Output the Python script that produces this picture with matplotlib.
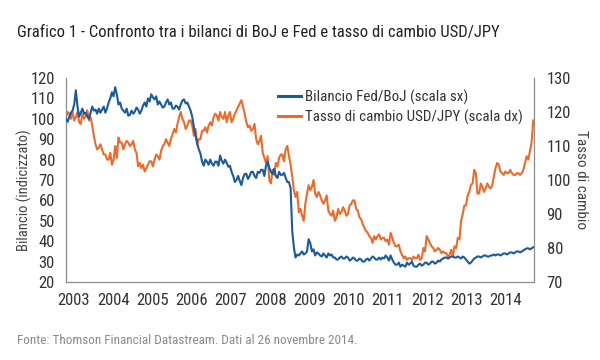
import numpy as np
from matplotlib import pyplot as plt
from matplotlib import font_manager
from matplotlib.lines import Line2D

# two readings a month, Jan 2003 .. Nov 2014
fed_boj = [
    100, 98.5, 101, 103, 104, 107, 114, 106, 101, 103, 105, 102.5,            # 2003
    103, 101, 100, 103, 106, 104, 104.5, 102.5, 105, 103, 104.5, 106,
    103, 105, 108, 110, 113, 111, 115.5, 112, 107, 108, 105, 104,             # 2004
    103, 105, 101.5, 102, 104, 102.5, 103.5, 105.5, 104.5, 102.5, 104, 106.5,
    108, 106, 110, 108.5, 112, 110.5, 109.5, 111, 107, 108.5, 107, 105.5,     # 2005
    106, 108, 109.5, 107, 108, 105, 105, 106.5, 106, 104.5, 107, 109,
    109.5, 107.5, 108, 106, 104, 101, 96, 92, 88, 85, 83, 79,                 # 2006
    77, 80, 79, 77.5, 80, 78, 77, 79, 79, 77, 82, 79.5,
    78, 80, 78.5, 76.5, 77, 74, 72, 69, 70, 72, 69.5, 67.5,                   # 2007
    71, 73, 73, 70.5, 72, 74, 74, 72, 71, 74, 73.5, 75,
    75, 72, 77, 79, 76, 74, 73, 75.5, 72, 71, 74, 72.5,                       # 2008
    72.5, 73.5, 71, 69, 69, 66, 45, 37, 32, 33.5, 33, 34,
    35, 33.5, 34, 35, 41, 39, 35, 36, 33, 34.5, 34, 33,                       # 2009
    32.5, 34, 33, 32, 34, 33, 33.5, 32, 32, 31, 31, 32,
    32.5, 31.5, 31.5, 32.5, 32, 30.5, 31, 32, 31.5, 30.5, 30.5, 31.5,         # 2010
    31, 30, 30, 31, 31.5, 30.5, 31.5, 32.5, 32, 31, 31, 32,
    31, 32, 31.5, 33, 32, 30.5, 33, 31, 29.5, 28.5, 28.5, 29.5,               # 2011
    27.5, 28.5, 28, 27.5, 29.5, 28.5, 29, 30, 28, 27.5, 27.5, 28.5,
    29, 28, 28.5, 29.5, 29.5, 28.5, 29, 30, 30, 29, 29.5, 30.5,               # 2012
    30, 31, 31.5, 32, 32, 31.5, 32, 32.5, 32.5, 32, 32, 32.5,
    32, 31.5, 32.5, 32, 31, 30, 29, 29.5, 30.5, 31.5, 32, 32.5,               # 2013
    32.5, 32, 32.5, 33, 33, 32.5, 32.5, 33, 33, 33.5, 33, 33.5,
    33.5, 33, 33.5, 34, 34, 33.5, 34, 34.5, 34.5, 34, 34.5, 35,               # 2014
    35, 34.5, 35, 35.5, 36, 36.5, 36.5, 36, 36.5, 37,
]
usdjpy = [
    118.5, 120, 119.5, 118, 120, 117.5, 118.5, 120, 117, 116.5, 119.5, 118,         # 2003
    119, 120.5, 117.5, 118.5, 116, 113, 110.5, 109, 109.5, 110.5, 109, 107.5,
    107.5, 106, 106, 108, 104.5, 106, 110, 106.5, 112.5, 111, 111, 109,             # 2004
    110.5, 111.5, 111, 110, 110.5, 111.5, 109, 108, 104, 105, 103.5, 104.5,
    102.5, 103.5, 104.5, 105.5, 105.5, 104, 106, 107.5, 107, 106, 108.5, 110,       # 2005
    110.5, 112, 111, 110, 112, 113.5, 115, 114, 116.5, 118.5, 120, 118,
    117, 115, 116, 117.5, 117.5, 116, 113, 115, 110.5, 112, 112, 114.5,             # 2006
    114.5, 115.5, 114, 116, 117, 116, 118.5, 119.5, 119, 117.5, 120, 118.5,
    118, 120, 117, 119, 120, 117, 118, 119.5, 120.5, 121.5, 122.5, 123.5,           # 2007
    121.5, 119.5, 117, 115.5, 116, 114.5, 115, 116.5, 112, 110.5, 111.5, 113,
    108, 106.5, 105, 107, 100, 99, 103, 101.5, 105, 104, 106.5, 107.5,              # 2008
    107.5, 105.5, 109, 110, 107, 104.5, 101, 97, 95, 96.5, 90.5, 91.5,
    89.5, 88, 93, 96, 98.5, 97, 98, 100, 96, 95, 96.5, 95.5,                        # 2009
    94, 93, 94, 95.5, 91, 90, 89.5, 91, 88, 89, 91.5, 90,
    90.5, 92, 91, 89.5, 90, 92.5, 93, 94, 94, 91.5, 91, 89,                         # 2010
    88.5, 87, 86, 85, 84.5, 83.5, 83, 81.5, 83.5, 82.5, 83.5, 84,
    82.5, 83, 83, 82, 82.5, 81, 84.5, 83, 81.5, 80.5, 80.5, 81,                     # 2011
    79, 78, 77, 77.5, 76.5, 77, 77, 76.5, 77.5, 77, 77, 78,
    76.5, 77, 80, 79, 83.5, 82.5, 81.5, 80.5, 80, 79, 79.5, 80,                     # 2012
    79.5, 78.5, 79, 78.5, 78.5, 77.5, 78, 79.5, 77.5, 80.5, 80, 83,
    82.5, 88, 90, 92.5, 92.5, 95.5, 96.5, 98.5, 99, 103, 102, 96,                   # 2013
    96, 99, 98, 96.5, 97.5, 99, 98, 97.5, 98.5, 101, 103.5, 105,
    104.5, 102.5, 102, 101.5, 102.5, 102, 102, 103, 102, 101.5, 101.5, 102,         # 2014
    102, 101.5, 102, 103, 105, 107, 106, 108.5, 111, 117.5,
]
years = list(range(2003, 2015))

BLUE = '#1b5a9c'
ORANGE = '#ee6a2a'
GREY = '#8c8c8c'

# pick a condensed face if there is one
names = {f.name for f in font_manager.fontManager.ttflist}
font = next((n for n in ['Liberation Sans Narrow', 'Roboto Condensed', 'Open Sans Condensed',
                         'Liberation Sans'] if n in names), 'DejaVu Sans')
plt.rcParams['font.family'] = [font, 'DejaVu Sans']

t = np.linspace(2003.0, 2014.9, len(fed_boj))

fig = plt.figure(figsize=(6, 3.6), dpi=100)
ax = fig.add_axes([66/600, 1-282/360, (534-66)/600, (282-78)/360])
ax2 = ax.twinx()

ax.plot(t, fed_boj, color=BLUE, lw=1.5, zorder=3)
ax2.plot(t, usdjpy, color=ORANGE, lw=1.5)
ax.set_zorder(ax2.get_zorder() + 1)
ax.patch.set_visible(False)

ax.set_xlim(2003.0, 2014.92)
ax.set_ylim(20, 120)
ax2.set_ylim(70, 130)
ax.set_yticks(range(20, 121, 10))
ax2.set_yticks(range(70, 131, 10))
ax.set_xticks([y + 0.2 for y in years])
ax.set_xticklabels([str(y) for y in years])

for a in (ax, ax2):
    a.tick_params(length=0, labelsize=12, colors='#333333')
    for s in a.spines.values():
        s.set_color(GREY)
        s.set_linewidth(0.9)
ax.tick_params(axis='y', pad=8)
ax.tick_params(axis='x', pad=8)
ax2.tick_params(axis='y', pad=9)
ax.spines['top'].set_visible(False)
ax.spines['right'].set_visible(False)
ax2.spines['top'].set_visible(False)
ax2.spines['left'].set_visible(False)
ax2.spines['bottom'].set_visible(False)

ax.set_ylabel('Bilancio (indicizzato)', fontsize=10.5, color='#444444',
              va='center', ha='center', rotation_mode='anchor')
ax.yaxis.set_label_coords(-0.088, 0.45)
ax2.set_ylabel('Tasso di cambio', fontsize=11, color='#444444', rotation=270,
               va='center', ha='center', rotation_mode='anchor')
ax2.yaxis.set_label_coords(1.1, 0.5)

handles = [Line2D([], [], color=BLUE, lw=2.2), Line2D([], [], color=ORANGE, lw=2.2)]
fig.legend(handles, ['Bilancio Fed/BoJ (scala sx)', 'Tasso di cambio USD/JPY (scala dx)'],
           loc='upper left', bbox_to_anchor=(270/600, 1-82/360), frameon=False,
           fontsize=10.8, handlelength=1.55, handletextpad=0.3, labelspacing=0.3,
           borderpad=0, labelcolor='#333333')

fig.text(17/600, 1-32/360, 'Grafico 1 - Confronto tra i bilanci di BoJ e Fed e tasso di cambio USD/JPY',
         fontsize=12, color='#222222', va='center', ha='left')
fig.text(17/600, 1-340/360, 'Fonte: Thomson Financial Datastream. Dati al 26 novembre 2014.',
         fontsize=9.5, color='#8a8a8a', va='center', ha='left')

fig.savefig('out.png', dpi=100, facecolor='white')
